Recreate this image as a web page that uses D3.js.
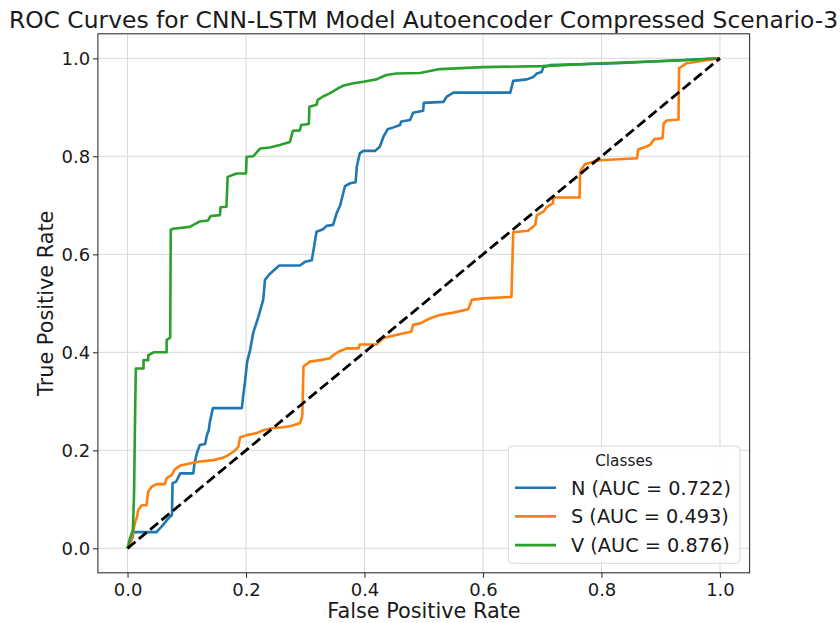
<!DOCTYPE html>
<html>
<head>
<meta charset="utf-8">
<script src="https://cdn.jsdelivr.net/npm/d3@7"></script>
<style>
  html, body { margin: 0; padding: 0; background: #fff; }
  text { font-family: "DejaVu Sans", sans-serif; fill: #1a1a1a; }
</style>
</head>
<body>
<svg id="chart" width="840" height="623"></svg>
<script>
// ---- Data ----
const classNames = ["N", "S", "V"];
const aucValues = [0.722, 0.493, 0.876];
const classColors = ["#1f77b4", "#ff7f0e", "#2ca02c"];
const tickValues = [0.0, 0.2, 0.4, 0.6, 0.8, 1.0];

const fprN = [0, 0.008, 0.010, 0.013, 0.049, 0.055, 0.060, 0.069, 0.075, 0.076, 0.082, 0.089, 0.111, 0.113, 0.117, 0.122, 0.131, 0.134, 0.137, 0.139, 0.144, 0.193, 0.195, 0.198, 0.202, 0.207, 0.212, 0.221, 0.229, 0.232, 0.241, 0.256, 0.291, 0.300, 0.311, 0.314, 0.319, 0.330, 0.336, 0.347, 0.353, 0.359, 0.367, 0.376, 0.385, 0.387, 0.392, 0.398, 0.418, 0.426, 0.432, 0.439, 0.449, 0.460, 0.462, 0.477, 0.482, 0.499, 0.500, 0.533, 0.539, 0.550, 0.646, 0.651, 0.674, 0.685, 0.691, 0.699, 0.702, 0.713, 0.826, 1.0];
const tprN = [0, 0.020, 0.033, 0.033, 0.033, 0.041, 0.048, 0.061, 0.068, 0.133, 0.136, 0.153, 0.153, 0.173, 0.194, 0.211, 0.213, 0.231, 0.241, 0.258, 0.286, 0.286, 0.309, 0.337, 0.381, 0.405, 0.439, 0.473, 0.507, 0.548, 0.561, 0.577, 0.577, 0.585, 0.588, 0.609, 0.646, 0.651, 0.658, 0.660, 0.684, 0.700, 0.739, 0.745, 0.747, 0.779, 0.806, 0.811, 0.811, 0.820, 0.840, 0.855, 0.859, 0.864, 0.871, 0.874, 0.889, 0.893, 0.909, 0.911, 0.922, 0.930, 0.930, 0.954, 0.957, 0.962, 0.969, 0.972, 0.982, 0.986, 0.990, 1.0];

const fprS = [0, 0.007, 0.010, 0.013, 0.016, 0.018, 0.024, 0.032, 0.035, 0.041, 0.049, 0.063, 0.066, 0.075, 0.079, 0.089, 0.105, 0.122, 0.145, 0.159, 0.167, 0.179, 0.187, 0.190, 0.201, 0.218, 0.229, 0.243, 0.263, 0.277, 0.291, 0.295, 0.297, 0.308, 0.325, 0.342, 0.347, 0.356, 0.370, 0.390, 0.392, 0.420, 0.432, 0.466, 0.479, 0.482, 0.494, 0.510, 0.527, 0.550, 0.575, 0.578, 0.581, 0.600, 0.648, 0.651, 0.676, 0.688, 0.691, 0.702, 0.708, 0.718, 0.719, 0.763, 0.764, 0.772, 0.786, 0.797, 0.860, 0.862, 0.876, 0.882, 0.889, 0.903, 0.905, 0.910, 0.930, 0.931, 0.944, 0.966, 1.0];
const tprS = [0, 0.020, 0.037, 0.054, 0.064, 0.078, 0.088, 0.088, 0.116, 0.126, 0.131, 0.131, 0.143, 0.150, 0.160, 0.169, 0.173, 0.177, 0.180, 0.184, 0.188, 0.197, 0.207, 0.226, 0.231, 0.235, 0.241, 0.245, 0.247, 0.250, 0.255, 0.270, 0.371, 0.381, 0.384, 0.388, 0.394, 0.401, 0.408, 0.408, 0.416, 0.416, 0.429, 0.439, 0.442, 0.456, 0.459, 0.469, 0.476, 0.481, 0.488, 0.497, 0.507, 0.510, 0.513, 0.645, 0.648, 0.660, 0.680, 0.687, 0.697, 0.704, 0.716, 0.716, 0.769, 0.784, 0.789, 0.792, 0.796, 0.814, 0.820, 0.823, 0.835, 0.837, 0.867, 0.873, 0.875, 0.980, 0.990, 0.994, 1.0];

const fprV = [0, 0.004, 0.009, 0.011, 0.013, 0.014, 0.027, 0.027, 0.035, 0.035, 0.044, 0.066, 0.066, 0.072, 0.073, 0.077, 0.105, 0.122, 0.136, 0.140, 0.156, 0.157, 0.167, 0.169, 0.184, 0.200, 0.201, 0.212, 0.224, 0.240, 0.257, 0.274, 0.279, 0.291, 0.293, 0.306, 0.307, 0.319, 0.321, 0.330, 0.342, 0.356, 0.364, 0.381, 0.398, 0.420, 0.437, 0.454, 0.494, 0.527, 0.600, 0.700, 0.800, 0.940, 1.0];
const tprV = [0, 0.020, 0.037, 0.110, 0.290, 0.367, 0.367, 0.384, 0.384, 0.394, 0.400, 0.400, 0.425, 0.430, 0.650, 0.652, 0.656, 0.667, 0.669, 0.678, 0.680, 0.696, 0.697, 0.758, 0.765, 0.765, 0.799, 0.800, 0.816, 0.818, 0.823, 0.829, 0.852, 0.853, 0.864, 0.866, 0.901, 0.905, 0.915, 0.922, 0.929, 0.939, 0.944, 0.949, 0.952, 0.957, 0.966, 0.969, 0.970, 0.978, 0.982, 0.984, 0.990, 0.996, 1.0];

const diagX = [0, 1];
const diagY = [0, 1];

const fprs = [fprN, fprS, fprV];
const tprs = [tprN, tprS, tprV];

// ---- Layout ----
const svg = d3.select("#chart");
const x = d3.scaleLinear().domain([-0.05, 1.05]).range([97.9, 749.6]);
const y = d3.scaleLinear().domain([-0.05, 1.05]).range([572.8, 33.8]);

// grid
const grid = svg.append("g");
grid.selectAll("line.vx").data(tickValues).join("line")
  .attr("x1", d => x(d)).attr("x2", d => x(d))
  .attr("y1", y.range()[1]).attr("y2", y.range()[0])
  .attr("stroke", "#d9d9d9").attr("stroke-width", 1);
grid.selectAll("line.hy").data(tickValues).join("line")
  .attr("y1", d => y(d)).attr("y2", d => y(d))
  .attr("x1", x.range()[0]).attr("x2", x.range()[1])
  .attr("stroke", "#d9d9d9").attr("stroke-width", 1);

// curves
const line = d3.line().x(d => x(d[0])).y(d => y(d[1]));
classNames.forEach((c, i) => {
  const pts = fprs[i].map((f, j) => [f, tprs[i][j]]);
  svg.append("path").datum(pts)
    .attr("d", line)
    .attr("fill", "none")
    .attr("stroke", classColors[i])
    .attr("stroke-width", 2.6)
    .attr("stroke-linejoin", "round")
    .attr("stroke-linecap", "butt");
});

// diagonal
svg.append("path").datum(diagX.map((d, i) => [d, diagY[i]]))
  .attr("d", line)
  .attr("fill", "none")
  .attr("stroke", "#000")
  .attr("stroke-width", 2.8)
  .attr("stroke-dasharray", "10.3,4.4");

// frame
svg.append("rect")
  .attr("x", x.range()[0]).attr("y", y.range()[1])
  .attr("width", x.range()[1] - x.range()[0])
  .attr("height", y.range()[0] - y.range()[1])
  .attr("fill", "none").attr("stroke", "#333").attr("stroke-width", 1.1);

// axes
const xAxis = d3.axisBottom(x).tickValues(tickValues).tickFormat(d3.format(".1f"))
  .tickSizeInner(5).tickSizeOuter(0).tickPadding(5);
const gx = svg.append("g").attr("transform", `translate(0,${y.range()[0]})`).call(xAxis);
gx.select(".domain").remove();
gx.selectAll(".tick line").attr("stroke", "#333").attr("stroke-width", 1.1);
gx.selectAll(".tick text").attr("font-size", 18).attr("font-family", "DejaVu Sans").attr("fill", "#1a1a1a");

const yAxis = d3.axisLeft(y).tickValues(tickValues).tickFormat(d3.format(".1f"))
  .tickSizeInner(5).tickSizeOuter(0).tickPadding(2.8);
const gy = svg.append("g").attr("transform", `translate(${x.range()[0]},0)`).call(yAxis);
gy.select(".domain").remove();
gy.selectAll(".tick line").attr("stroke", "#333").attr("stroke-width", 1.1);
gy.selectAll(".tick text").attr("font-size", 18).attr("font-family", "DejaVu Sans").attr("fill", "#1a1a1a");

// title & labels
svg.append("text").attr("x", 423.5).attr("y", 28).attr("text-anchor", "middle")
  .attr("font-size", 23.4).text("ROC Curves for CNN-LSTM Model Autoencoder Compressed Scenario-3");
svg.append("text").attr("x", 424).attr("y", 618).attr("text-anchor", "middle")
  .attr("font-size", 20.8).text("False Positive Rate");
svg.append("text").attr("transform", "translate(53,303.3) rotate(-90)").attr("text-anchor", "middle")
  .attr("font-size", 20.8).text("True Positive Rate");

// legend
const lg = svg.append("g");
lg.append("rect").attr("x", 508.3).attr("y", 446).attr("width", 231.7).attr("height", 117.3)
  .attr("rx", 4).attr("fill", "#fff").attr("fill-opacity", 0.85)
  .attr("stroke", "#d6d6d6").attr("stroke-width", 1);
lg.append("text").attr("x", 624).attr("y", 466).attr("text-anchor", "middle")
  .attr("font-size", 15.3).attr("fill", "#333").text("Classes");
classNames.forEach((c, i) => {
  const yy = 487.7 + i * 28.7;
  lg.append("line").attr("x1", 515).attr("x2", 556).attr("y1", yy).attr("y2", yy)
    .attr("stroke", classColors[i]).attr("stroke-width", 2.6);
  lg.append("text").attr("x", 571).attr("y", yy + 7).attr("font-size", 19.3)
    .text(`${c} (AUC = ${aucValues[i].toFixed(3)})`);
});
</script>
</body>
</html>
